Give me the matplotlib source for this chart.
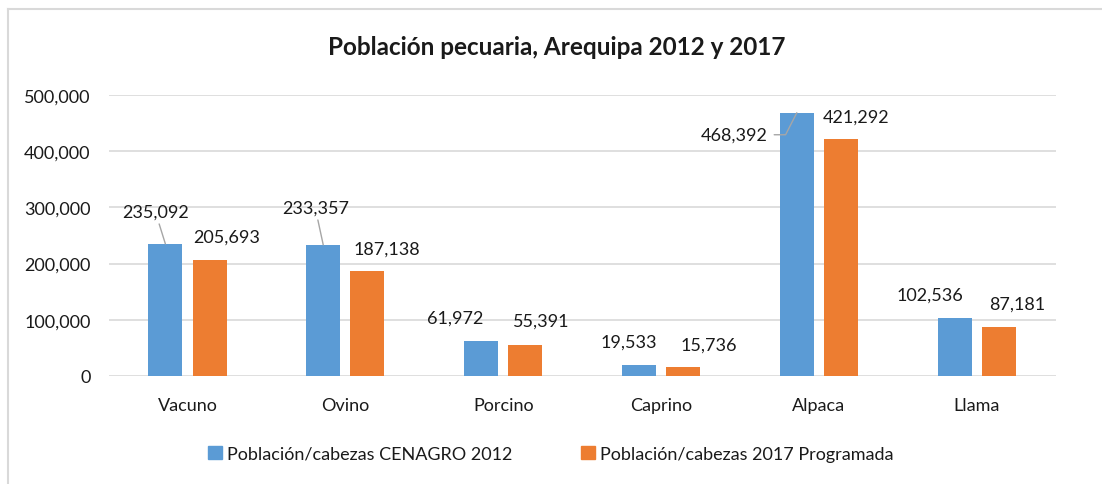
import numpy as np
import matplotlib
matplotlib.use('Agg')
import matplotlib.pyplot as plt
from matplotlib.patches import Patch
from matplotlib.lines import Line2D

plt.rcParams['font.family'] = ['Lato', 'DejaVu Sans']

# datos
categorias = ['Vacuno', 'Ovino', 'Porcino', 'Caprino', 'Alpaca', 'Llama']
cenagro_2012 = [235092, 233357, 61972, 19533, 468392, 102536]
programada_2017 = [205693, 187138, 55391, 15736, 421292, 87181]
serie_nombres = ['Población/cabezas CENAGRO 2012', 'Población/cabezas 2017 Programada']
yticks = [0, 100000, 200000, 300000, 400000, 500000]

azul = '#5B9BD5'
naranja = '#ED7D31'
txt = '#1a1a1a'
fs = 13

fig = plt.figure(figsize=(11.02, 4.85), dpi=100)
ax = fig.add_axes([0.0985, 0.2227, 0.8595, 0.5794])

x = np.arange(len(categorias))
w = 0.216
off = 0.14
ax.bar(x - off, cenagro_2012, w, color=azul, zorder=3)
ax.bar(x + off, programada_2017, w, color=naranja, zorder=3)

ax.set_xlim(-0.5, len(categorias) - 0.5)
ax.set_ylim(0, 500000)
ax.set_yticks(yticks)
ax.set_yticklabels([f'{v:,}' for v in yticks])
ax.set_xticks(x)
ax.set_xticklabels(categorias)
ax.tick_params(axis='y', length=0, pad=13, labelsize=fs, labelcolor=txt)
ax.tick_params(axis='x', length=0, pad=15, labelsize=fs, labelcolor=txt)
ax.grid(axis='y', color='#D9D9D9', lw=1.2, zorder=0)
for s in ax.spines.values():
    s.set_visible(False)

# etiquetas (desplazamientos en pixeles, como en el original)
off_azul = [(-10, -32), (-8, -37), (-26, -24), (-10, -23), (-63, 22), (-25, -24)]
off_nar = [(17, -24), (19, -22), (16, -24), (26, -23), (15, -23), (18, -23)]
lider = {0: 'diag', 1: 'diag', 4: 'angle'}

for i, v in enumerate(cenagro_2012):
    dx, dy = off_azul[i]
    ap = None
    if lider.get(i) == 'diag':
        ap = dict(arrowstyle='-', color='#A6A6A6', lw=1, shrinkA=1, shrinkB=0)
    elif lider.get(i) == 'angle':
        ap = dict(arrowstyle='-', color='#A6A6A6', lw=1, shrinkA=3, shrinkB=0,
                  relpos=(1, 0.5), connectionstyle='angle,angleA=0,angleB=63,rad=0')
    ax.annotate(f'{v:,}', xy=(x[i] - off, v), xytext=(dx, -dy),
                textcoords='offset pixels', ha='center', va='center',
                fontsize=fs, color=txt, arrowprops=ap, zorder=5)

for i, v in enumerate(programada_2017):
    dx, dy = off_nar[i]
    ax.annotate(f'{v:,}', xy=(x[i] + off, v), xytext=(dx, -dy),
                textcoords='offset pixels', ha='center', va='center',
                fontsize=fs, color=txt, zorder=5)

fig.text(0.505, 0.903, 'Población pecuaria, Arequipa 2012 y 2017',
         ha='center', va='center', fontsize=17.5, fontweight='bold', color=txt)

handles = [Patch(color=azul), Patch(color=naranja)]
fig.legend(handles, serie_nombres, loc='center', bbox_to_anchor=(0.5, 0.062),
           ncol=2, frameon=False, fontsize=fs, handlelength=0.75, handleheight=0.75,
           handletextpad=0.3, columnspacing=3.8, labelcolor=txt)

# borde del grafico
fig.add_artist(Line2D([8 / 1102, 8 / 1102], [0, 1 - 10 / 485], color='#D9D9D9', lw=1.5))
fig.add_artist(Line2D([8 / 1102, 1], [1 - 10 / 485, 1 - 10 / 485], color='#D9D9D9', lw=1.5))

fig.savefig('out.png', dpi=100)
